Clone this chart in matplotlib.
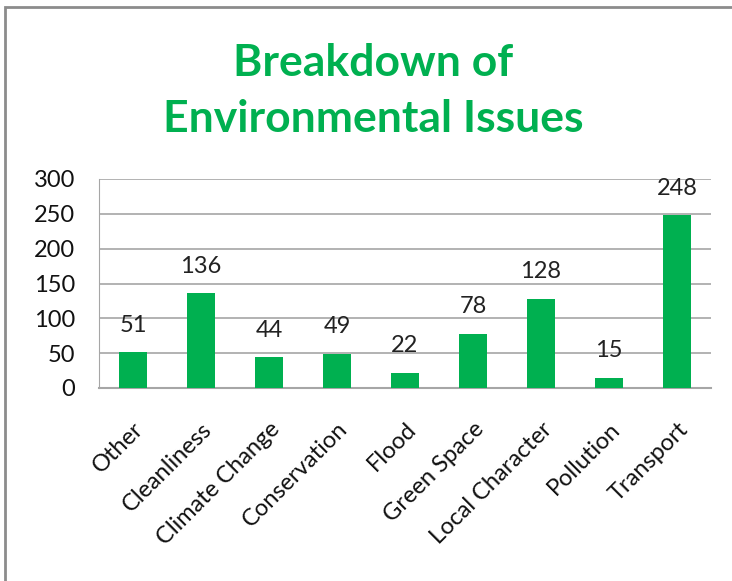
import matplotlib
matplotlib.use('Agg')
import matplotlib.pyplot as plt
from matplotlib.patches import Rectangle

categories = ['Other', 'Cleanliness', 'Climate Change', 'Conservation', 'Flood',
              'Green Space', 'Local Character', 'Pollution', 'Transport']
counts = [51, 136, 44, 49, 22, 78, 128, 15, 248]
yticks = [0, 50, 100, 150, 200, 250, 300]

green = '#00B050'
plt.rcParams['font.family'] = ['Lato', 'DejaVu Sans']

fig = plt.figure(figsize=(7.32, 5.81), dpi=100)

# chart frame (cut off at right and bottom like the screenshot)
fig.patches.append(Rectangle((5 / 732, -0.1), 1.2, 1 - 7 / 581 + 0.1,
                             transform=fig.transFigure, fill=False,
                             edgecolor='#8c8c8c', linewidth=2))

fig.text(373 / 732, 1 - 76 / 581, 'Breakdown of', color=green, fontsize=32,
         fontweight='bold', ha='center', va='baseline')
fig.text(373 / 732, 1 - 132 / 581, 'Environmental Issues', color=green, fontsize=32,
         fontweight='bold', ha='center', va='baseline')

ax = fig.add_axes([99 / 732, 1 - 388 / 581, 612 / 732, 209 / 581])
x = range(len(categories))
bars = ax.bar(x, counts, width=0.4, color=green, zorder=3)
for xi, v in zip(x, counts):
    ax.annotate(str(v), (xi, v), xytext=(0, 12), textcoords='offset points',
                ha='center', va='bottom', fontsize=17, color='#222222')

ax.set_xlim(-0.5, len(categories) - 0.5)
ax.set_ylim(0, 300)
ax.set_yticks(yticks)
ax.yaxis.grid(True, color='#a6a6a6', linewidth=1.2, zorder=0)
ax.set_xticks(list(x))
ax.set_xticklabels(categories, rotation=45, ha='right', rotation_mode='anchor',
                   fontsize=17)
ax.tick_params(axis='both', length=0, labelsize=17, colors='#111111')
ax.tick_params(axis='x', pad=22)
ax.tick_params(axis='y', pad=17)
for s in ['top', 'right']:
    ax.spines[s].set_visible(False)
ax.spines['left'].set_color('#a6a6a6')
ax.spines['bottom'].set_color('#a6a6a6')
ax.spines['bottom'].set_linewidth(1.5)

fig.savefig('out.png', dpi=100)
